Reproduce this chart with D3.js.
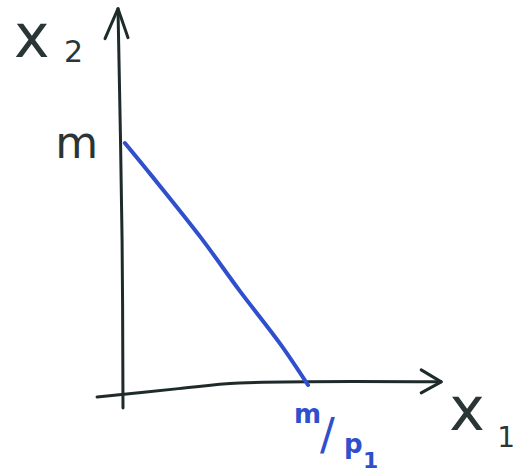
<!DOCTYPE html>
<html>
<head>
<meta charset="utf-8">
<script src="https://cdn.jsdelivr.net/npm/d3@7"></script>
<style>
  html, body { margin: 0; padding: 0; background: #ffffff; }
  svg { display: block; }
</style>
</head>
<body>
<svg id="chart" width="518" height="476"></svg>
<script>
// ---- data (in chart units: m/p1 = 1 on x1, m = 1 on x2) ----
const budgetX1 = [0.01, 0.16, 0.42, 0.63, 0.85, 1.0];
const budgetX2 = [1.0, 0.86, 0.61, 0.39, 0.17, 0.0];
const xAxisX1 = [-0.14, 0.3, 0.63, 1.72];
const xAxisX2 = [-0.05, -0.015, 0.008, 0.013];
const yAxisX1 = [0.0, -0.005, -0.027];
const yAxisX2 = [-0.095, 0.6, 1.555];
const axisLabels = ["x", "x"];
const axisSubs = ["1", "2"];
const interceptLabelY = "m";
const interceptLabelX = ["m", "/", "p", "1"];

const svg = d3.select("#chart");
const x = d3.scaleLinear().domain([0, 1]).range([123, 308]);
const y = d3.scaleLinear().domain([0, 1]).range([385, 143]);

const ink = "#1f2b2b";
const blue = "#2f4fcc";

const toPts = (xs, ys) => xs.map((v, i) => [v, ys[i]]);
const line = d3.line().x(d => x(d[0])).y(d => y(d[1])).curve(d3.curveCatmullRom);

// axes
svg.append("path").attr("d", line(toPts(xAxisX1, xAxisX2)))
  .attr("fill", "none").attr("stroke", ink).attr("stroke-width", 3).attr("stroke-linecap", "round");
svg.append("path").attr("d", line(toPts(yAxisX1, yAxisX2)))
  .attr("fill", "none").attr("stroke", ink).attr("stroke-width", 3).attr("stroke-linecap", "round");

// arrow heads (open chevrons) at axis tips
const xTip = [x(xAxisX1[xAxisX1.length - 1]), y(xAxisX2[xAxisX2.length - 1])];
const yTip = [x(yAxisX1[yAxisX1.length - 1]), y(yAxisX2[yAxisX2.length - 1])];
svg.append("path")
  .attr("d", `M${xTip[0] - 20},${xTip[1] - 12} L${xTip[0]},${xTip[1]} L${xTip[0] - 20},${xTip[1] + 11}`)
  .attr("fill", "none").attr("stroke", ink).attr("stroke-width", 3)
  .attr("stroke-linecap", "round").attr("stroke-linejoin", "round");
svg.append("path")
  .attr("d", `M${yTip[0] - 13},${yTip[1] + 30} L${yTip[0]},${yTip[1]} L${yTip[0] + 10},${yTip[1] + 29}`)
  .attr("fill", "none").attr("stroke", ink).attr("stroke-width", 3)
  .attr("stroke-linecap", "round").attr("stroke-linejoin", "round");

// budget line
svg.append("path").attr("d", line(toPts(budgetX1, budgetX2)))
  .attr("fill", "none").attr("stroke", blue).attr("stroke-width", 4)
  .attr("stroke-linecap", "round").attr("stroke-linejoin", "round");

const font = "'DejaVu Sans', sans-serif";

// x2 axis label
const t2 = svg.append("text").attr("font-family", font).attr("fill", "#2a3535");
t2.append("tspan").attr("x", yTip[0] - 104).attr("y", 57).attr("font-size", 60).text(axisLabels[1]);
t2.append("tspan").attr("x", yTip[0] - 54).attr("y", 62).attr("font-size", 30).text(axisSubs[1]);

// x1 axis label
const t1 = svg.append("text").attr("font-family", font).attr("fill", "#2a3535");
t1.append("tspan").attr("x", xTip[0] + 8).attr("y", 430).attr("font-size", 60).text(axisLabels[0]);
t1.append("tspan").attr("x", xTip[0] + 56).attr("y", 447).attr("font-size", 28).text(axisSubs[0]);

// m label on x2 axis
svg.append("text").attr("font-family", font).attr("fill", "#2a3535")
  .attr("x", x(0) - 25).attr("y", y(1) + 15).attr("text-anchor", "end")
  .attr("font-size", 44).text(interceptLabelY);

// m/p1 label (blue) under x1 intercept
const tb = svg.append("text").attr("font-family", font).attr("fill", blue).attr("font-weight", "bold");
const bx = x(1);
tb.append("tspan").attr("x", bx - 14).attr("y", 423).attr("font-size", 26).text(interceptLabelX[0]);
tb.append("tspan").attr("x", bx + 12).attr("y", 450).attr("font-size", 44).attr("font-weight", "normal").text(interceptLabelX[1]);
tb.append("tspan").attr("x", bx + 36).attr("y", 453).attr("font-size", 26).text(interceptLabelX[2]);
tb.append("tspan").attr("x", bx + 55).attr("y", 468).attr("font-size", 22).text(interceptLabelX[3]);
</script>
</body>
</html>
